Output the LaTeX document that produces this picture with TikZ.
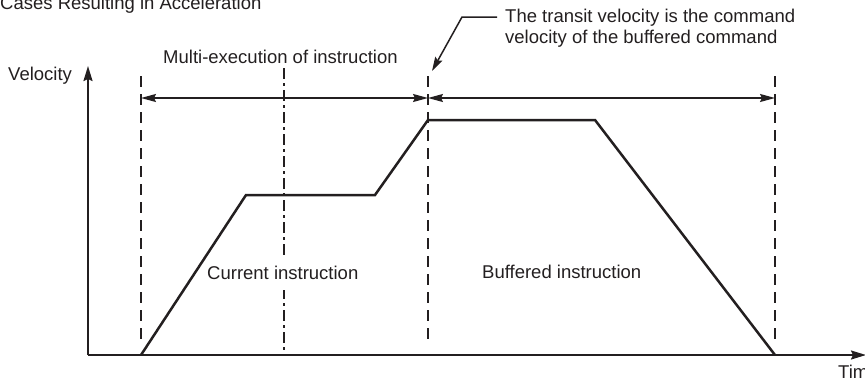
\documentclass[tikz,border=0pt]{standalone}
\usepackage{fontspec}
\setmainfont{Liberation Sans}
\usetikzlibrary{arrows.meta}
\definecolor{ink}{HTML}{231F20}
\begin{document}
\begin{tikzpicture}[x=1pt,y=-1pt,
  lbl/.style={font=\fontsize{18.5}{21}\selectfont, text=ink, inner sep=0pt, anchor=base west},
  axisline/.style={draw=ink, line width=1.8pt, -{Stealth[length=15pt,width=9pt,inset=2pt]}},
  dimline/.style={draw=ink, line width=1.5pt, {Stealth[length=15pt,width=8pt,inset=2pt]}-{Stealth[length=15pt,width=8pt,inset=2pt]}},
  guide/.style={draw=ink, line width=1.2pt, dash pattern=on 11pt off 7pt},
  midline/.style={draw=ink, line width=1.3pt, dash pattern=on 11pt off 4pt on 3pt off 4pt},
  profile/.style={draw=ink, line width=2.5pt, line join=miter},
  leader/.style={draw=ink, line width=1.5pt, -{Stealth[length=14pt,width=8pt,inset=2pt]}}]
\useasboundingbox (0,0) rectangle (865,378);

% axes
\coordinate (O) at (88,355);
\coordinate (Ytop) at (88,66);
\coordinate (Xend) at (866,355);
\draw[axisline] (O) -- (Ytop);
\draw[axisline] (O) -- (Xend);

% guide lines
\coordinate (g1t) at (141,76);  \coordinate (g1b) at (141,346);
\coordinate (g2t) at (428,76);  \coordinate (g2b) at (428,346);
\coordinate (g3t) at (775,76);  \coordinate (g3b) at (775,346);
\coordinate (mt) at (284,68);   \coordinate (mb) at (284,350);
\draw[guide] (g1t) -- (g1b);
\draw[guide] (g2t) -- (g2b);
\draw[guide] (g3t) -- (g3b);
\draw[midline] (mt) -- (mb);

% text
\node[lbl] (title) at (0,9) {Cases Resulting in Acceleration};
\node[lbl] (vel) at (8,80) {Velocity};
\node[lbl] (multi) at (163,63) {Multi-execution of instruction};
\node[lbl] (anno1) at (505,22) {The transit velocity is the command};
\node[lbl] (anno2) at (505,43) {velocity of the buffered command};
\node[lbl, fill=white, inner ysep=11pt] (cur) at (207,279) {Current instruction};
\node[lbl] (buf) at (482,278) {Buffered instruction};
\node[lbl] (time) at (838,378) {Time};

% dimension arrows
\coordinate (d1) at (141,98);
\coordinate (d2) at (428,98);
\coordinate (d3) at (775,98);
\draw[dimline] (d1) -- (d2);
\draw[dimline] (d2) -- (d3);

% velocity profile
\coordinate (p0) at (141,355);
\coordinate (p1) at (246,195);
\coordinate (p2) at (375,195);
\coordinate (p3) at (428,120);
\coordinate (p4) at (595,120);
\coordinate (p5) at (775,355);
\draw[profile] (p0) -- (p1) -- (p2) -- (p3) -- (p4) -- (p5);

% leader
\coordinate (l0) at (497,17);
\coordinate (l1) at (462,17);
\coordinate (l2) at (432,71);
\draw[leader] (l0) -- (l1) -- (l2);
\end{tikzpicture}
\end{document}
